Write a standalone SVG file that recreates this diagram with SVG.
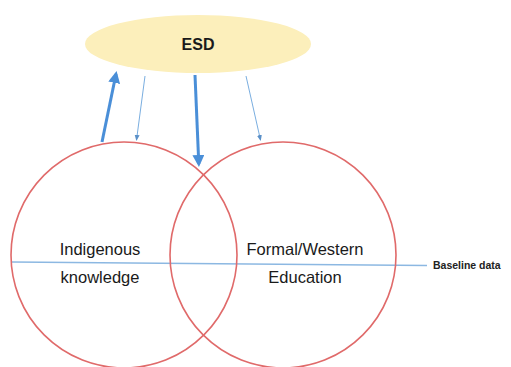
<svg xmlns="http://www.w3.org/2000/svg" width="511" height="367" viewBox="0 0 511 367">
<defs>
<style>
.lbl{font-family:"Liberation Sans","Noto Sans",sans-serif;fill:#1a1a1a;text-anchor:middle}
.circ{fill:none;stroke:#e06a6a;stroke-width:1.6}
.thick{stroke:#4a8fd8;stroke-width:3;fill:none}
.thin{stroke:#7aaee0;stroke-width:1;fill:none}
</style>
<marker id="hb" markerWidth="4" markerHeight="4" refX="3" refY="2" orient="auto" markerUnits="strokeWidth">
<path d="M0,0 L4,2 L0,4 Z" fill="#4a8fd8"/>
</marker>
<marker id="hs" markerWidth="6" markerHeight="6" refX="5" refY="3" orient="auto" markerUnits="strokeWidth">
<path d="M0,0.5 L6,3 L0,5.5 Z" fill="#5a90c8"/>
</marker>
</defs>
<rect width="511" height="367" fill="#fff"/>
<g id="esd">
<ellipse cx="198" cy="44" rx="113" ry="29" fill="#fcefbb"/>
<text class="lbl" x="198" y="49.5" font-size="16" font-weight="bold">ESD</text>
</g>
<g id="baseline">
<line x1="12" y1="262" x2="427" y2="265.5" stroke="#8cb8e2" stroke-width="1.5"/>
<text x="433" y="269" font-family="Liberation Sans,sans-serif" font-size="10.5" font-weight="bold" fill="#222">Baseline data</text>
</g>
<g id="indigenous">
<circle class="circ" cx="124" cy="255" r="113"/>
<text class="lbl" x="100" y="255" font-size="16.5">Indigenous</text>
<text class="lbl" x="100" y="283" font-size="16.5">knowledge</text>
</g>
<g id="formal">
<circle class="circ" cx="283" cy="255" r="113"/>
<text class="lbl" x="305" y="255" font-size="16.5">Formal/Western</text>
<text class="lbl" x="305" y="283" font-size="16.5">Education</text>
</g>
<g id="connectors">
<line class="thick" x1="102" y1="142" x2="116" y2="74" marker-end="url(#hb)"/>
<line class="thin" x1="145" y1="76" x2="136.5" y2="140" marker-end="url(#hs)"/>
<line class="thick" x1="195" y1="75" x2="198.8" y2="164" marker-end="url(#hb)"/>
<line class="thin" x1="246" y1="76" x2="260.5" y2="140" marker-end="url(#hs)"/>
</g>
</svg>
